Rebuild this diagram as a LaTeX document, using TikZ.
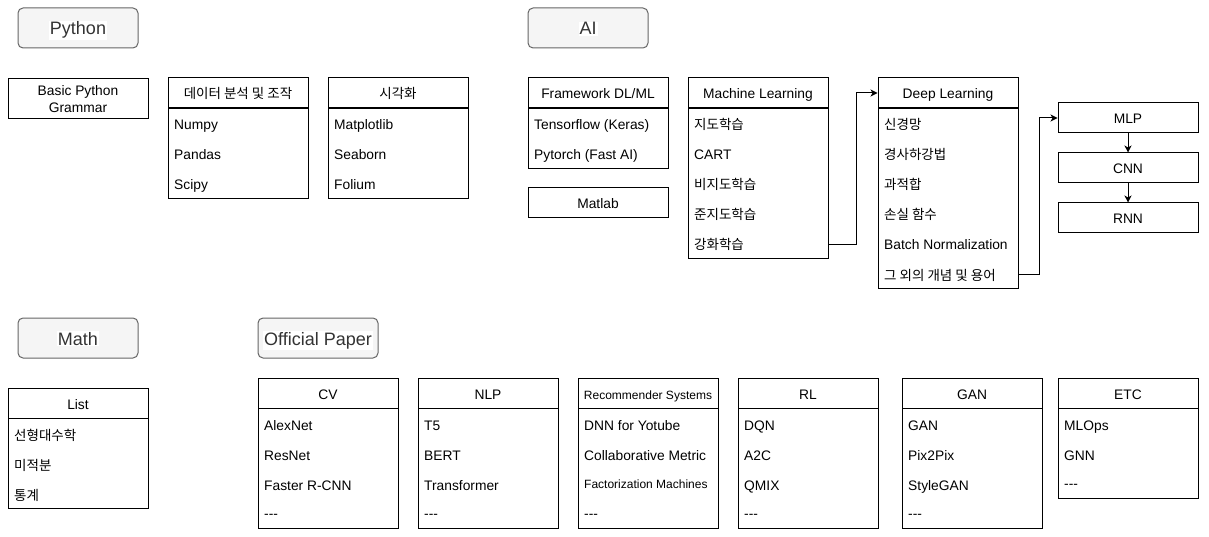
\documentclass[tikz,border=0pt]{standalone}
\usepackage{fontspec}
\setmainfont{Liberation Sans}
\newfontfamily\krfont{Noto Sans CJK KR}
\usetikzlibrary{arrows.meta}

\definecolor{titlefill}{HTML}{F5F5F5}
\definecolor{titleline}{HTML}{666666}
\definecolor{titleink}{HTML}{333333}

\newcommand\rowfont{\fontsize{13.8}{17}\selectfont}
\newcommand\smallrowfont{\fontsize{12}{14}\selectfont}
\newcommand\titlefont{\fontsize{18}{21}\selectfont}
\newcommand\hangul[1]{{\krfont\fontsize{13.5}{15}\selectfont #1}}
\newcommand\whitelabel[1]{{\setlength{\fboxsep}{1pt}\colorbox{white}{#1}}}
\newcommand\more{-{}-{}-}

\tikzset{
  titlebox/.style={draw=titleline, fill=titlefill, rounded corners=5pt, line width=1pt,
    minimum width=120pt, minimum height=40pt, text=titleink, font=\titlefont,
    text height=15pt, text depth=1pt},
  head/.style={draw, line width=1pt, minimum width=140pt, minimum height=30pt,
    inner sep=0pt, font=\rowfont, text height=12pt, text depth=0pt},
  plainbox/.style={draw, line width=1pt, minimum width=140pt, inner sep=0pt, font=\rowfont},
  body/.style={draw, line width=1pt, minimum width=140pt, anchor=north west, inner sep=0pt},
  rowtext/.style={anchor=base west, inner sep=0pt, font=\rowfont},
  flow/.style={line width=1pt, -{Stealth[length=7pt,width=7pt,inset=2pt]}},
}

\begin{document}
\begin{tikzpicture}[x=1pt, y=-1pt]
            \useasboundingbox (0,0) rectangle (1209,537);

            % titles
            \node[titlebox] (python) at (78,28) {\whitelabel{Python}};
            \node[titlebox] (ai) at (588,28) {\whitelabel{AI}};
            \node[titlebox] (math) at (78,338) {\whitelabel{Math}};
            \node[titlebox] (paper) at (318,338) {\whitelabel{Official Paper}};

            % python
            \node[plainbox, minimum height=40pt, align=center] (grammar) at (78,99) {Basic Python\\Grammar};

            \node[head] (dath) at (238,93) {\hangul{데이터 분석 및 조작}};
            \node[body, minimum height=90pt] (datb) at (168,108) {};
            \node[rowtext] (dat1) at (174,130) {Numpy};
            \node[rowtext] (dat2) at (174,160) {Pandas};
            \node[rowtext] (dat3) at (174,190) {Scipy};

            \node[head] (vish) at (398,93) {\hangul{시각화}};
            \node[body, minimum height=90pt] (visb) at (328,108) {};
            \node[rowtext] (vis1) at (334,130) {Matplotlib};
            \node[rowtext] (vis2) at (334,160) {Seaborn};
            \node[rowtext] (vis3) at (334,190) {Folium};

            % ai
            \node[head] (fwh) at (598,93) {Framework DL/ML};
            \node[body, minimum height=60pt] (fwb) at (528,108) {};
            \node[rowtext] (fw1) at (534,130) {Tensorflow (Keras)};
            \node[rowtext] (fw2) at (534,160) {Pytorch (Fast AI)};

            \node[head] (matlab) at (598,203) {Matlab};

            \node[head] (mlh) at (758,93) {Machine Learning};
            \node[body, minimum height=150pt] (mlb) at (688,108) {};
            \node[rowtext] (ml1) at (694,130) {\hangul{지도학습}};
            \node[rowtext] (ml2) at (694,160) {CART};
            \node[rowtext] (ml3) at (694,190) {\hangul{비지도학습}};
            \node[rowtext] (ml4) at (694,220) {\hangul{준지도학습}};
            \node[rowtext] (ml5) at (694,250) {\hangul{강화학습}};

            \node[head] (dlh) at (948,93) {Deep Learning};
            \node[body, minimum height=180pt] (dlb) at (878,108) {};
            \node[rowtext] (dl1) at (884,130) {\hangul{신경망}};
            \node[rowtext] (dl2) at (884,160) {\hangul{경사하강법}};
            \node[rowtext] (dl3) at (884,190) {\hangul{과적합}};
            \node[rowtext] (dl4) at (884,220) {\hangul{손실 함수}};
            \node[rowtext] (dl5) at (884,250) {Batch Normalization};
            \node[rowtext] (dl6) at (884,280) {\hangul{그 외의 개념 및 용어}};

            \node[head] (mlp) at (1128,118) {MLP};
            \node[head] (cnn) at (1128,168) {CNN};
            \node[head] (rnn) at (1128,218) {RNN};

            % math
            \node[head] (listh) at (78,403) {List};
            \node[body, minimum height=90pt] (listb) at (8,418) {};
            \node[rowtext] (list1) at (14,440) {\hangul{선형대수학}};
            \node[rowtext] (list2) at (14,470) {\hangul{미적분}};
            \node[rowtext] (list3) at (14,500) {\hangul{통계}};

            % papers
            \node[head] (cvh) at (328,393) {CV};
            \node[body, minimum height=120pt] (cvb) at (258,408) {};
            \node[rowtext] (cv1) at (264,430) {AlexNet};
            \node[rowtext] (cv2) at (264,460) {ResNet};
            \node[rowtext] (cv3) at (264,490) {Faster R-CNN};
            \node[rowtext] (cv4) at (264,518) {\more};

            \node[head] (nlph) at (488,393) {NLP};
            \node[body, minimum height=120pt] (nlpb) at (418,408) {};
            \node[rowtext] (nlp1) at (424,430) {T5};
            \node[rowtext] (nlp2) at (424,460) {BERT};
            \node[rowtext] (nlp3) at (424,490) {Transformer};
            \node[rowtext] (nlp4) at (424,518) {\more};

            \node[head, font=\smallrowfont] (rech) at (648,393) {Recommender Systems};
            \node[body, minimum height=120pt] (recb) at (578,408) {};
            \node[rowtext] (rec1) at (584,430) {DNN for Yotube};
            \node[rowtext] (rec2) at (584,460) {Collaborative Metric};
            \node[rowtext, font=\smallrowfont] (rec3) at (584,488) {Factorization Machines};
            \node[rowtext] (rec4) at (584,518) {\more};

            \node[head] (rlh) at (808,393) {RL};
            \node[body, minimum height=120pt] (rlb) at (738,408) {};
            \node[rowtext] (rl1) at (744,430) {DQN};
            \node[rowtext] (rl2) at (744,460) {A2C};
            \node[rowtext] (rl3) at (744,490) {QMIX};
            \node[rowtext] (rl4) at (744,518) {\more};

            \node[head] (ganh) at (972,393) {GAN};
            \node[body, minimum height=120pt] (ganb) at (902,408) {};
            \node[rowtext] (gan1) at (908,430) {GAN};
            \node[rowtext] (gan2) at (908,460) {Pix2Pix};
            \node[rowtext] (gan3) at (908,490) {StyleGAN};
            \node[rowtext] (gan4) at (908,518) {\more};

            \node[head] (etch) at (1128,393) {ETC};
            \node[body, minimum height=90pt] (etcb) at (1058,408) {};
            \node[rowtext] (etc1) at (1064,430) {MLOps};
            \node[rowtext] (etc2) at (1064,460) {GNN};
            \node[rowtext] (etc3) at (1064,488) {\more};

            \draw[flow] (mlb.east |- ml5) -- ++(27,0) |- (dlh.west);
            \draw[flow] (dlb.east |- dl6) -- ++(20,0) |- (mlp.west);
            \draw[flow] (mlp) to (cnn); \draw[flow] (cnn) to (rnn);
        \end{tikzpicture}
\end{document}
